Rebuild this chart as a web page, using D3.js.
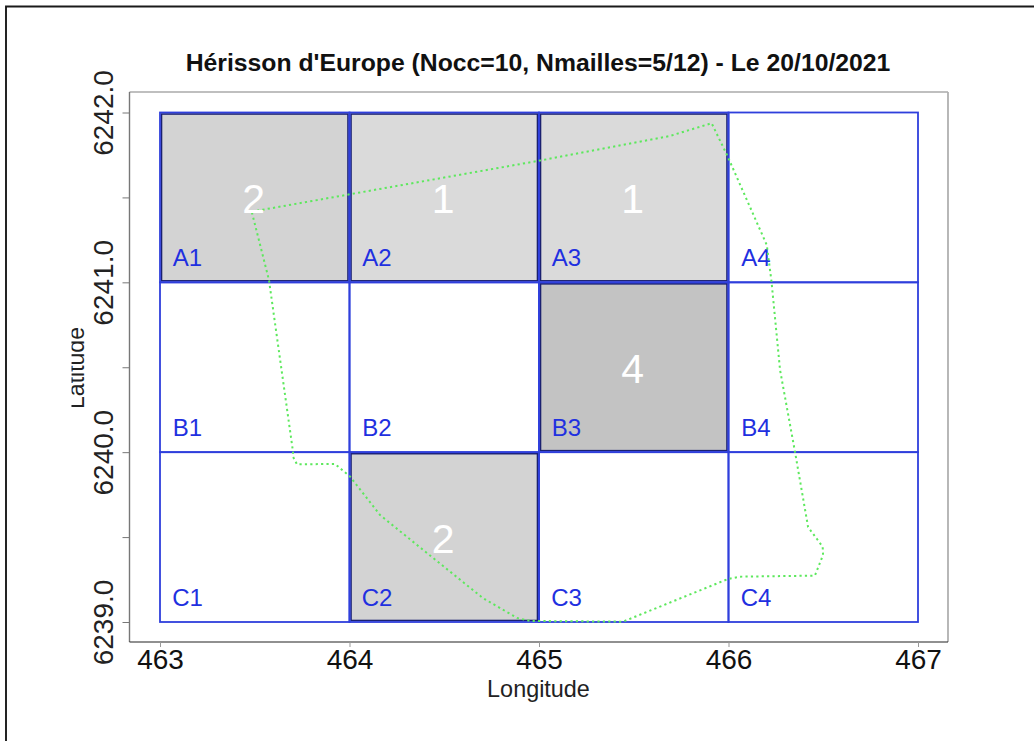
<!DOCTYPE html>
<html><head><meta charset="utf-8">
<script src="https://cdn.jsdelivr.net/npm/d3@7"></script>
<style>html,body{margin:0;padding:0;background:#fff}svg{display:block}text{font-family:"Liberation Sans",Arial,sans-serif}</style>
</head><body><div id="chart"></div>
<script>
const title = "Hérisson d'Europe (Nocc=10, Nmailles=5/12) - Le 20/10/2021";
const xLabel = "Longitude", yLabel = "Latitude";
const xTicks = [463, 464, 465, 466, 467];
const yMajorTicks = [6239, 6240, 6241, 6242];
const yMinorTicks = [6239.5, 6240.5, 6241.5];
const cellNames = ["A1","A2","A3","A4","B1","B2","B3","B4","C1","C2","C3","C4"];
const cellX = [463,464,465,466,463,464,465,466,463,464,465,466];
const cellY = [6241,6241,6241,6241,6240,6240,6240,6240,6239,6239,6239,6239];
const cellCounts = [2,1,1,0,0,0,4,0,0,2,0,0];
const cellFills = ["#d3d3d3","#dadada","#dadada",null,null,null,"#c3c3c3",null,null,"#d3d3d3",null,null];
const outlineX = [463.484,465.005,465.691,465.911,465.992,466.202,466.219,466.227,466.272,466.351,466.420,466.497,466.499,466.456,466.061,465.997,465.443,464.953,464.884,464.704,464.409,464.161,464.003,463.923,463.723,463.702,463.702,463.575,463.484];
const outlineY = [6241.416,6241.717,6241.862,6241.937,6241.750,6241.220,6241.073,6241.004,6240.484,6240.001,6239.559,6239.443,6239.395,6239.273,6239.267,6239.253,6239.002,6239.006,6239.024,6239.141,6239.406,6239.630,6239.856,6239.931,6239.928,6239.973,6240.001,6241.014,6241.416];

const W=1034,H=741;
const box={l:129.5,t:92,r:948,b:642};
const x=d3.scaleLinear().domain([463,467]).range([160,918]);
const y=d3.scaleLinear().domain([6239,6242]).range([622,112.5]);
const svg=d3.select("#chart").append("svg").attr("width",W).attr("height",H);

// outer frame: top and left only
svg.append("path").attr("d",`M1034,6.5H6V741`).attr("fill","none").attr("stroke","#1a1a1a").attr("stroke-width",1.9);

// cells
const cells=cellNames.map((n,i)=>({n,x:cellX[i],y:cellY[i],c:cellCounts[i],f:cellFills[i]}));
const rect=d=>({x:x(d.x),y:y(d.y+1),w:x(d.x+1)-x(d.x),h:y(d.y)-y(d.y+1)});
const filled=cells.filter(d=>d.f);
svg.append("g").selectAll("rect").data(filled).join("rect")
  .attr("x",d=>rect(d).x+1.5).attr("y",d=>rect(d).y+1.5).attr("width",d=>rect(d).w-3).attr("height",d=>rect(d).h-3)
  .attr("fill",d=>d.f).attr("stroke","#1a2070").attr("stroke-width",1.6);
svg.append("g").selectAll("rect").data(cells).join("rect")
  .attr("x",d=>rect(d).x).attr("y",d=>rect(d).y).attr("width",d=>rect(d).w).attr("height",d=>rect(d).h)
  .attr("fill","none").attr("stroke","#2f3fdc").attr("stroke-width",1.8);

// axes frame
const fr=svg.append("g").attr("fill","none");
fr.append("line").attr("x1",box.l).attr("x2",box.r).attr("y1",box.t).attr("y2",box.t).attr("stroke","#aaa").attr("stroke-width",1.4);
fr.append("line").attr("x1",box.r).attr("x2",box.r).attr("y1",box.t).attr("y2",box.b).attr("stroke","#b0b0b0").attr("stroke-width",1.8);
fr.append("line").attr("x1",box.l).attr("x2",box.l).attr("y1",box.t).attr("y2",box.b).attr("stroke","#777").attr("stroke-width",1.4);
fr.append("line").attr("x1",box.l).attr("x2",box.r).attr("y1",box.b).attr("y2",box.b).attr("stroke","#222").attr("stroke-width",1.2);

// ticks
const axisBottom=d3.axisBottom(x).tickValues(xTicks).tickSize(5).tickPadding(2).tickFormat(d3.format("d"));
const gx=svg.append("g").attr("transform",`translate(0,${box.b})`).call(axisBottom);
gx.select(".domain").remove();
gx.selectAll("line").attr("stroke","#999");
gx.selectAll("text").attr("fill","#111").attr("y",27).attr("dy",0).style("font-size","28px").style("font-family",'"Liberation Sans",Arial,sans-serif');
const axisLeft=d3.axisLeft(y).tickValues(yMajorTicks.concat(yMinorTicks)).tickSize(7).tickFormat(d=>yMajorTicks.includes(d)?d3.format(".1f")(d):"");
const gy=svg.append("g").attr("transform",`translate(${box.l},0)`).call(axisLeft);
gy.select(".domain").remove();
gy.selectAll("line").attr("stroke","#777");
gy.selectAll("text").attr("fill","#222").attr("x",null).attr("y",null).attr("dy",0)
  .attr("text-anchor","middle")
  .attr("transform",d=>`translate(-16.5,0) rotate(-90)`)
  .style("font-size","28px").style("font-family",'"Liberation Sans",Arial,sans-serif');

// cell names
svg.append("g").selectAll("text").data(cells).join("text")
  .attr("x",d=>x(d.x)+27.5).attr("y",d=>y(d.y)-16).attr("text-anchor","middle")
  .attr("fill","#1f30e0").style("font-size","24px").text(d=>d.n);

// outline
const line=d3.line().x(d=>x(d[0])).y(d=>y(d[1]));
svg.append("path").datum(outlineX.map((v,i)=>[v,outlineY[i]])).attr("d",line)
  .attr("fill","none").attr("stroke","#5de85d").attr("stroke-width",2).attr("stroke-dasharray","2.2 3.2");

// counts
svg.append("g").selectAll("text").data(cells.filter(d=>d.c>0)).join("text")
  .attr("x",d=>x(d.x+0.5)-1).attr("y",d=>y(d.y+0.5)+15.5).attr("text-anchor","middle")
  .attr("fill","#fff").style("font-size","41px").text(d=>d.c);

// title and labels
svg.append("text").attr("x",538).attr("y",71).attr("text-anchor","middle")
  .attr("fill","#111").style("font-size","24.75px").style("font-weight","bold").text(title);
svg.append("text").attr("x",538.5).attr("y",697).attr("text-anchor","middle")
  .attr("fill","#222").style("font-size","23.4px").text(xLabel);
// y label: ascenders are cut off in the reference
const defs=svg.append("defs");
defs.append("clipPath").attr("id","ylab").append("rect").attr("x",71.5).attr("y",300).attr("width",40).attr("height",140);
svg.append("g").attr("clip-path","url(#ylab)").append("text")
  .attr("transform","translate(83.5,368) rotate(-90)").attr("text-anchor","middle")
  .attr("fill","#222").style("font-size","23px").text(yLabel);
</script></body></html>
